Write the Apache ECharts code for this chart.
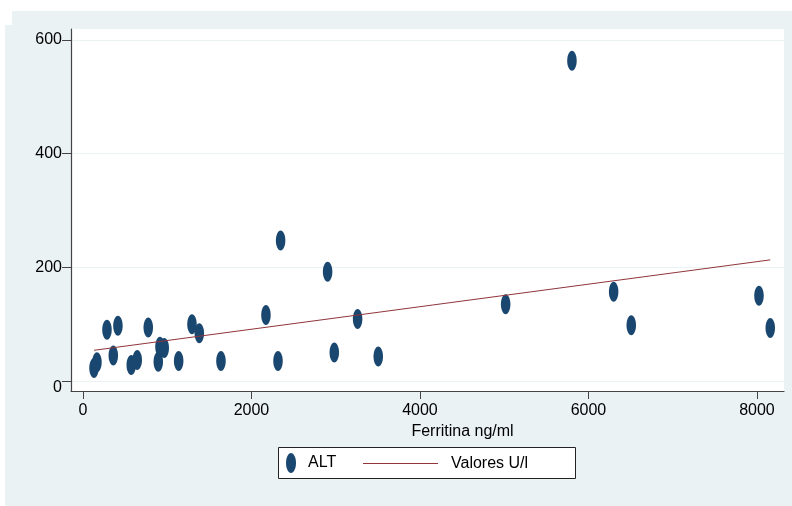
<!DOCTYPE html>
<html>
<head>
<meta charset="utf-8">
<script src="https://cdn.jsdelivr.net/npm/echarts@6/dist/echarts.min.js"></script>
<style>html,body{margin:0;padding:0;background:#fff}#c{width:792px;height:506px}</style>
</head>
<body>
<div id="c"></div>
<script>
// Data
const ferritina = [131, 166, 285, 415, 360, 573, 644, 775, 894, 914, 965, 1136, 1294, 1381, 1638,
  2346, 2904, 2172, 3260, 2315, 2983, 3505, 5017, 6299, 6508, 8024, 8158, 5804];
const alt = [23, 33, 90, 97, 45, 28, 37, 94, 34, 60, 58, 35, 100, 84, 35,
  247, 192, 116, 109, 35, 50, 43, 135, 157, 98, 150, 93, 563];
const fitX = [131, 8158];
const fitY = [54, 213];
const xTicks = [0, 2000, 4000, 6000, 8000];
const yTicks = [0, 200, 400, 600];
const seriesNames = ['ALT', 'Valores U/l'];
const xTitle = 'Ferritina ng/ml';

const font = 'Liberation Sans, Arial, Helvetica, sans-serif';
const ellipse = 'path://M5,0 C7.76,0 10,4.48 10,10 C10,15.52 7.76,20 5,20 C2.24,20 0,15.52 0,10 C0,4.48 2.24,0 5,0 Z';
const navy = '#1a476f';
const maroon = '#90353b';
const bg = '#eaf2f3';

const chart = echarts.init(document.getElementById('c'), null, {renderer: 'canvas'});
chart.setOption({
  animation: false,
  backgroundColor: '#ffffff',
  textStyle: {fontFamily: font},
  graphic: [
    {type: 'rect', z: -10, shape: {x: 12, y: 11, width: 780, height: 495}, style: {fill: bg}},
    {type: 'rect', z: -10, shape: {x: 5, y: 25, width: 787, height: 481}, style: {fill: bg}},
    {type: 'rect', z: 5, shape: {x: 278.5, y: 447.5, width: 297, height: 31}, style: {fill: '#ffffff', stroke: '#222', lineWidth: 1}}
  ],
  grid: {left: 71, right: 8, top: 29, bottom: 115, show: true, backgroundColor: '#ffffff', borderWidth: 0},
  xAxis: {
    type: 'value', min: -142, max: 8321,
    name: xTitle, nameLocation: 'middle', nameGap: 30,
    nameTextStyle: {fontSize: 16, color: '#000', fontFamily: font, padding: [0, 0, 0, 70]},
    axisLine: {show: true, onZero: false, lineStyle: {color: '#444', width: 1.2}},
    axisTick: {show: true, length: 8, customValues: xTicks, lineStyle: {color: '#444', width: 1}},
    axisLabel: {customValues: xTicks, fontSize: 16, color: '#000', fontFamily: font, margin: 12,
      formatter: function (v) { return String(v); }},
    splitLine: {show: false}
  },
  yAxis: {
    type: 'value', min: -17.6, max: 619,
    axisLine: {show: true, onZero: false, lineStyle: {color: '#444', width: 1.2}},
    axisTick: {show: true, length: 9, customValues: yTicks, lineStyle: {color: '#444', width: 1}},
    axisLabel: {
      customValues: yTicks, fontSize: 16, color: '#000', fontFamily: font, margin: 9,
      formatter: function (v) { return v === 0 ? '{z|0}' : String(v); },
      rich: {z: {fontSize: 16, color: '#000', fontFamily: font, padding: [14, 0, 0, 0]}}
    },
    splitLine: {show: true, lineStyle: {color: bg, width: 1.2}}
  },
  legend: [
    {
      data: [{name: seriesNames[0], icon: ellipse}],
      left: 286, top: 453, padding: 0, z: 6,
      itemWidth: 10, itemHeight: 20,
      textStyle: {fontSize: 16, color: '#000', fontFamily: font, padding: [0, 0, 0, 7]}
    },
    {
      data: [{name: seriesNames[1], icon: 'rect'}],
      left: 363, top: 455.5, padding: 0, z: 6,
      itemWidth: 75, itemHeight: 1.2,
      textStyle: {fontSize: 16, color: '#000', fontFamily: font, padding: [0, 0, 0, 8]}
    }
  ],
  series: [
    {
      name: seriesNames[0], type: 'scatter', symbol: ellipse, symbolSize: [9.5, 20],
      itemStyle: {color: navy, opacity: 1},
      data: ferritina.map((x, i) => [x, alt[i]]),
      z: 3
    },
    {
      name: seriesNames[1], type: 'line', symbol: 'none', showSymbol: false,
      lineStyle: {color: maroon, width: 1},
      itemStyle: {color: maroon},
      data: fitX.map((x, i) => [x, fitY[i]]),
      z: 4
    }
  ]
});
</script>
</body>
</html>
